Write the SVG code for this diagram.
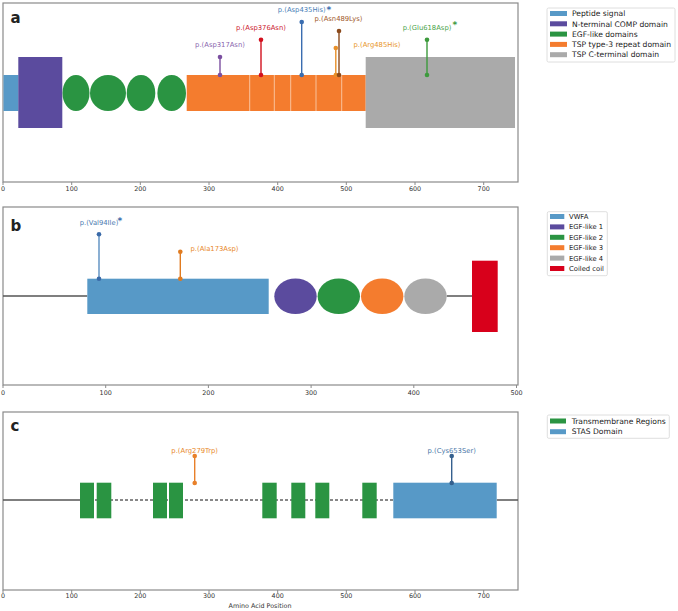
<svg xmlns="http://www.w3.org/2000/svg" width="678" height="611" viewBox="0 0 678 611">
<style>
text{font-family:"DejaVu Sans","Liberation Sans",sans-serif}
.frame{fill:#fff;stroke:#8a8a8a;stroke-width:1.2}
.tick{stroke:#8a8a8a;stroke-width:1}
.tl{font-size:6.4px;fill:#333;text-anchor:middle}
.pl{font-size:15px;font-weight:bold;fill:#222}
.leg{fill:#fff;stroke:#d6d6d6;stroke-width:0.8}
.lt{font-size:7.6px;fill:#222}
.ltb{font-size:6.8px;fill:#222}
.ml{font-size:6.8px;text-anchor:middle}
.ast{font-size:9px;font-weight:bold}
.bb{stroke:#555;stroke-width:1.5;fill:none}
.dash{stroke:#111;stroke-width:1;stroke-dasharray:3,2;fill:none}
.blue{fill:#5799c7}.purple{fill:#5b4b9e}.green{fill:#2a9442}.orange{fill:#f47c2e}.grey{fill:#aaaaaa}.red{fill:#d8001b}
.sep{stroke:#fbd3b8;stroke-width:0.8}
</style>

<!-- Panel frames -->
<rect class="frame" x="3" y="3" width="515" height="179"/>
<rect class="frame" x="3" y="207" width="515" height="178"/>
<rect class="frame" x="3" y="412" width="515" height="178"/>

<!-- Ticks & labels panel a -->
<g id="axis-a">
<path class="tick" d="M3 182v3M71.7 182v3M140.3 182v3M209 182v3M277.7 182v3M346.3 182v3M415 182v3M483.7 182v3"/>
<text class="tl" x="3" y="190.5">0</text><text class="tl" x="71.7" y="190.5">100</text><text class="tl" x="140.3" y="190.5">200</text><text class="tl" x="209" y="190.5">300</text><text class="tl" x="277.7" y="190.5">400</text><text class="tl" x="346.3" y="190.5">500</text><text class="tl" x="415" y="190.5">600</text><text class="tl" x="483.7" y="190.5">700</text>
</g>
<g id="axis-b">
<path class="tick" d="M3 385v3M105.7 385v3M208.4 385v3M311.1 385v3M413.8 385v3M516.5 385v3"/>
<text class="tl" x="3" y="395">0</text><text class="tl" x="105.7" y="395">100</text><text class="tl" x="208.4" y="395">200</text><text class="tl" x="311.1" y="395">300</text><text class="tl" x="413.8" y="395">400</text><text class="tl" x="516.5" y="395">500</text>
</g>
<g id="axis-c">
<path class="tick" d="M3 590v3M71.7 590v3M140.3 590v3M209 590v3M277.7 590v3M346.3 590v3M415 590v3M483.7 590v3"/>
<text class="tl" x="3" y="598">0</text><text class="tl" x="71.7" y="598">100</text><text class="tl" x="140.3" y="598">200</text><text class="tl" x="209" y="598">300</text><text class="tl" x="277.7" y="598">400</text><text class="tl" x="346.3" y="598">500</text><text class="tl" x="415" y="598">600</text><text class="tl" x="483.7" y="598">700</text>
<text class="tl" x="260" y="607.5">Amino Acid Position</text>
</g>

<text class="pl" x="10.5" y="22.5">a</text>
<text class="pl" x="10.5" y="231">b</text>
<text class="pl" x="10.5" y="431">c</text>

<!-- Panel a domains -->
<g id="a-peptide"><rect class="blue" x="3.5" y="75" width="15" height="36"/></g>
<g id="a-ncomp"><rect class="purple" x="18.3" y="57" width="44" height="71"/></g>
<g id="a-egf1"><ellipse class="green" cx="76" cy="93" rx="13.5" ry="18"/></g>
<g id="a-egf2"><ellipse class="green" cx="108" cy="93" rx="18" ry="18"/></g>
<g id="a-egf3"><ellipse class="green" cx="141" cy="93" rx="14.3" ry="18"/></g>
<g id="a-egf4"><ellipse class="green" cx="171.7" cy="93" rx="14.3" ry="18"/></g>
<g id="a-tsp3">
<rect class="orange" x="186.7" y="75" width="179" height="36"/>
<path class="sep" d="M249.7 75v36M274.3 75v36M290.7 75v36M316 75v36M341.7 75v36"/>
</g>
<g id="a-ctsp"><rect class="grey" x="365.7" y="57" width="149.3" height="71"/></g>

<!-- Panel a mutations -->
<g id="connectors-a" stroke-width="1.4">
<g id="mut-Asp317Asn"><line x1="220" y1="75" x2="220" y2="57" stroke="#7b4fa0"/><circle cx="220" cy="57" r="2.3" fill="#7b4fa0"/><circle cx="220" cy="75" r="2.3" fill="#7b4fa0"/><text class="ml" x="220" y="46.5" fill="#8a66ae">p.(Asp317Asn)</text></g>
<g id="mut-Asp376Asn"><line x1="261" y1="75" x2="261" y2="39.7" stroke="#d2101e"/><circle cx="261" cy="39.7" r="2.3" fill="#d2101e"/><circle cx="261" cy="75" r="2.3" fill="#d2101e"/><text class="ml" x="261" y="29.5" fill="#cc2030">p.(Asp376Asn)</text></g>
<g id="mut-Asp435His"><line x1="301.7" y1="75" x2="301.7" y2="22" stroke="#3a6db0"/><circle cx="301.7" cy="22" r="2.3" fill="#3a6db0"/><circle cx="301.7" cy="75" r="2.3" fill="#3a6db0"/><text class="ml" x="301.7" y="11.5" fill="#4a7fb8">p.(Asp435His)</text><text class="ast" x="326.5" y="13" fill="#3a6db0">*</text></g>
<g id="mut-Arg485His"><line x1="335.8" y1="75" x2="335.8" y2="48" stroke="#e8902a"/><circle cx="335.8" cy="48" r="2.3" fill="#e8902a"/><circle cx="335.8" cy="75" r="2.3" fill="#e8902a"/><text class="ml" x="377" y="46.5" fill="#e8962a">p.(Arg485His)</text></g>
<g id="mut-Asn489Lys"><line x1="339" y1="75" x2="339" y2="31" stroke="#8b4a1c"/><circle cx="339" cy="31" r="2.3" fill="#8b4a1c"/><circle cx="339" cy="75" r="2.3" fill="#8b4a1c"/><text class="ml" x="338.5" y="20.5" fill="#a0582a">p.(Asn489Lys)</text></g>
<g id="mut-Glu618Asp"><line x1="427" y1="75" x2="427" y2="39.7" stroke="#3d9a3d"/><circle cx="427" cy="39.7" r="2.3" fill="#3d9a3d"/><circle cx="427" cy="75" r="2.3" fill="#3d9a3d"/><text class="ml" x="427" y="29.5" fill="#4aa44a">p.(Glu618Asp)</text><text class="ast" x="452.5" y="28" fill="#3d9a3d">*</text></g>
</g>

<!-- Legend a -->
<g id="legend-a">
<rect class="leg" x="547" y="8" width="128" height="54" rx="1.5"/>
<rect class="blue" x="550" y="11" width="17" height="5"/><text class="lt" x="572" y="16.2">Peptide signal</text>
<rect class="purple" x="550" y="21.3" width="17" height="5"/><text class="lt" x="572" y="26.5">N-terminal COMP domain</text>
<rect class="green" x="550" y="31.6" width="17" height="5"/><text class="lt" x="572" y="36.8">EGF-like domains</text>
<rect class="orange" x="550" y="41.9" width="17" height="5"/><text class="lt" x="572" y="47.1">TSP type-3 repeat domain</text>
<rect class="grey" x="550" y="52.2" width="17" height="5"/><text class="lt" x="572" y="57.4">TSP C-terminal domain</text>
</g>

<!-- Panel b -->
<g id="connectors-b">
<path class="bb" d="M3 296H87.3M446.7 296H472"/>
</g>
<g id="b-vwfa"><rect class="blue" x="87.3" y="278.7" width="181.4" height="35.3"/></g>
<g id="b-egf1"><ellipse class="purple" cx="295.5" cy="296.3" rx="21.2" ry="17.8"/></g>
<g id="b-egf2"><ellipse class="green" cx="338.8" cy="296.3" rx="21.2" ry="17.8"/></g>
<g id="b-egf3"><ellipse class="orange" cx="382.2" cy="296.3" rx="21.2" ry="17.8"/></g>
<g id="b-egf4"><ellipse class="grey" cx="425.5" cy="296.3" rx="21.2" ry="17.8"/></g>
<g id="b-coil"><rect class="red" x="472" y="260.7" width="25.7" height="71.3"/></g>
<g id="mutations-b" stroke-width="1.4">
<g id="mut-Val94Ile"><line x1="99" y1="278.7" x2="99" y2="234.3" stroke="#5b8ec0"/><circle cx="99" cy="234.3" r="2.3" fill="#3a6aa8"/><circle cx="99" cy="278.7" r="2.3" fill="#3a6aa8"/><text class="ml" x="99" y="224.5" fill="#4a7ab0">p.(Val94Ile)</text><text class="ast" x="117.5" y="224" fill="#3a6aa8">*</text></g>
<g id="mut-Ala173Asp"><line x1="180.3" y1="278.7" x2="180.3" y2="251.7" stroke="#e07b20"/><circle cx="180.3" cy="251.7" r="2.3" fill="#e07b20"/><circle cx="180.3" cy="278.7" r="2.3" fill="#e07b20"/><text class="ml" x="190.5" y="250.5" fill="#e8882a" style="text-anchor:start">p.(Ala173Asp)</text></g>
</g>
<g id="legend-b">
<rect class="leg" x="547.3" y="211.7" width="60" height="64" rx="1.5"/>
<rect class="blue" x="550" y="214" width="14.3" height="5"/><text class="ltb" x="569" y="219">VWFA</text>
<rect class="purple" x="550" y="224.4" width="14.3" height="5"/><text class="ltb" x="569" y="229.4">EGF-like 1</text>
<rect class="green" x="550" y="234.8" width="14.3" height="5"/><text class="ltb" x="569" y="239.8">EGF-like 2</text>
<rect class="orange" x="550" y="245.2" width="14.3" height="5"/><text class="ltb" x="569" y="250.2">EGF-like 3</text>
<rect class="grey" x="550" y="255.6" width="14.3" height="5"/><text class="ltb" x="569" y="260.6">EGF-like 4</text>
<rect class="red" x="550" y="266" width="14.3" height="5"/><text class="ltb" x="569" y="271">Coiled coil</text>
</g>

<!-- Panel c -->
<g id="connectors-c">
<path class="bb" d="M3 500H80M496.7 500H518"/>
<path class="dash" d="M80 500H393.3"/>
</g>
<g id="c-tm1"><rect class="green" x="80" y="482.7" width="14" height="35.6"/></g>
<g id="c-tm2"><rect class="green" x="96.7" y="482.7" width="14.6" height="35.6"/></g>
<g id="c-tm3"><rect class="green" x="153" y="482.7" width="14" height="35.6"/></g>
<g id="c-tm4"><rect class="green" x="169" y="482.7" width="14" height="35.6"/></g>
<g id="c-tm5"><rect class="green" x="262.3" y="482.7" width="14.4" height="35.6"/></g>
<g id="c-tm6"><rect class="green" x="291.3" y="482.7" width="14" height="35.6"/></g>
<g id="c-tm7"><rect class="green" x="315.3" y="482.7" width="14" height="35.6"/></g>
<g id="c-tm8"><rect class="green" x="362.3" y="482.7" width="14.4" height="35.6"/></g>
<g id="c-stas"><rect class="blue" x="393.3" y="482.7" width="103.4" height="35.6"/></g>
<g id="mutations-c" stroke-width="1.4">
<g id="mut-Arg279Trp"><line x1="194.7" y1="483" x2="194.7" y2="456" stroke="#e8802a"/><circle cx="194.7" cy="456" r="2.3" fill="#e8802a"/><circle cx="194.7" cy="483" r="2.3" fill="#e8802a"/><text class="ml" x="194.7" y="453" fill="#e8882a">p.(Arg279Trp)</text></g>
<g id="mut-Cys653Ser"><line x1="451.7" y1="483" x2="451.7" y2="456" stroke="#35608e"/><circle cx="451.7" cy="456" r="2.3" fill="#35608e"/><circle cx="451.7" cy="483" r="2.3" fill="#35608e"/><text class="ml" x="451.7" y="453" fill="#4a78a8">p.(Cys653Ser)</text></g>
</g>
<g id="legend-c">
<rect class="leg" x="547.3" y="415" width="122" height="23.3" rx="1.5"/>
<rect class="green" x="550" y="418.5" width="16" height="5"/><text class="lt" x="571.7" y="423.7">Transmembrane Regions</text>
<rect class="blue" x="550" y="429.2" width="16" height="5"/><text class="lt" x="571.7" y="434.4">STAS Domain</text>
</g>
</svg>
